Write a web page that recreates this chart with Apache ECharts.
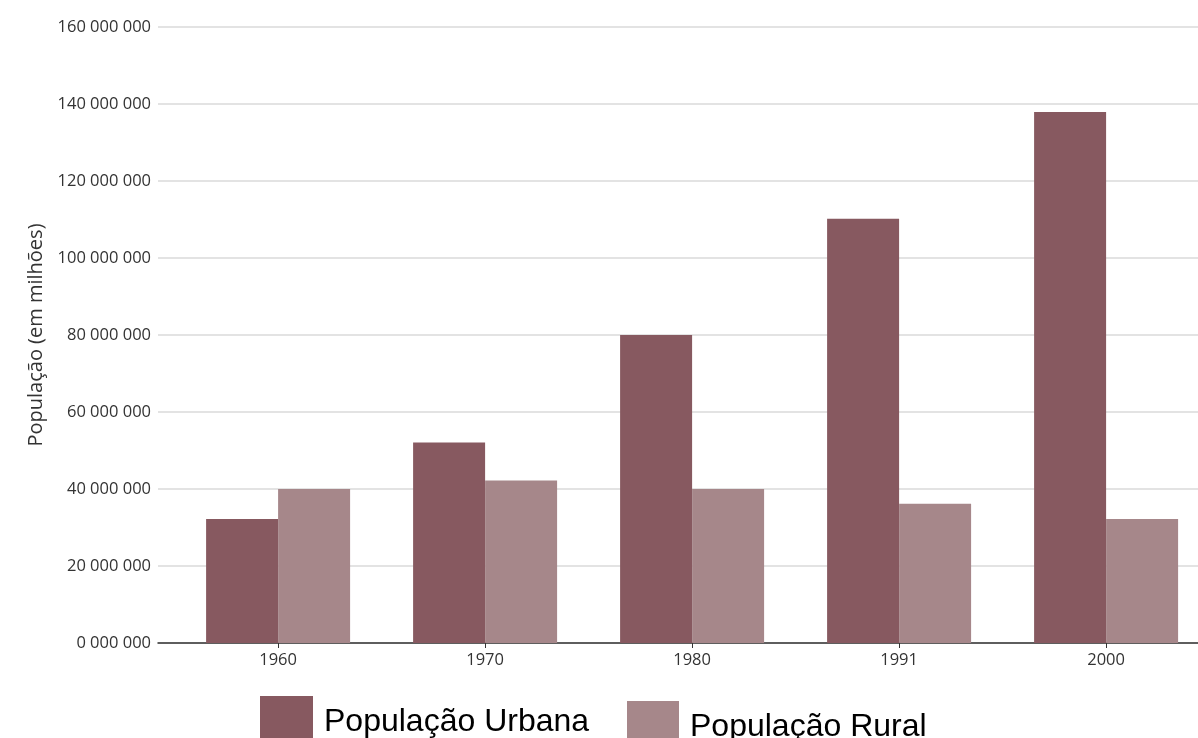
<!DOCTYPE html>
<html lang="pt">
<head>
    <meta charset="UTF-8">
    <title>População urbana e rural</title>
    <script src="https://cdn.jsdelivr.net/npm/echarts@6/dist/echarts.min.js"></script>
    <style>
        html, body { margin: 0; padding: 0; background: #fff; }
    </style>
</head>
<body>
<div id="chart" style="width: 1198px;height: 738px;"></div>
<script>
    var years = ['1960', '1970', '1980', '1991', '2000'];
    // valores (habitantes)
    var urbana = [32200000, 52100000, 80000000, 110200000, 137900000];
    var rural = [40000000, 42200000, 40000000, 36200000, 32200000];
    var yTickLabels = ['0 000 000', '20 000 000', '40 000 000', '60 000 000', '80 000 000',
        '100 000 000', '120 000 000', '140 000 000', '160 000 000'];

    var corUrbana = '#875960';
    var corRural = '#a6878a';

    var myChart = echarts.init(document.getElementById('chart'));
    var option = {
        backgroundColor: '#fff',
        animation: false,
        grid: [
            // grade das linhas horizontais e eixo Y
            { left: 158, right: 0, top: 27, bottom: 95, outerBoundsMode: 'none' },
            // grade das barras (categorias) - passa um pouco da borda direita
            { left: 174.6, width: 1035, top: 27, bottom: 95, outerBoundsMode: 'none' }
        ],
        legend: [
            {
                data: ['População Urbana'],
                left: 260, top: 696, padding: 0,
                icon: 'rect', itemWidth: 53, itemHeight: 52,
                selectedMode: false,
                textStyle: { fontFamily: 'Liberation Sans', fontSize: 32, color: '#000', padding: [0, 0, 0, 6] }
            },
            {
                data: ['População Rural'],
                left: 627, top: 701, padding: 0,
                icon: 'rect', itemWidth: 52, itemHeight: 52,
                selectedMode: false,
                textStyle: { fontFamily: 'Liberation Sans', fontSize: 32, color: '#000', padding: [0, 0, 0, 6] }
            }
        ],
        xAxis: [
            {
                gridIndex: 0,
                type: 'value',
                min: 0, max: 1,
                axisLine: { show: true, lineStyle: { color: '#333', width: 1.5 } },
                axisTick: { show: false },
                axisLabel: { show: false },
                splitLine: { show: false }
            },
            {
                gridIndex: 1,
                type: 'category',
                data: years,
                axisLine: { show: false },
                axisTick: { show: true, alignWithLabel: true, length: 5, lineStyle: { color: '#333' } },
                axisLabel: { color: '#333', fontFamily: 'Open Sans', fontSize: 16.5, margin: 9 },
                splitLine: { show: false }
            }
        ],
        yAxis: [
            {
                gridIndex: 0,
                type: 'value',
                min: 0, max: 160000000, interval: 20000000,
                name: 'População (em milhões)',
                nameLocation: 'middle',
                nameGap: 112,
                nameTextStyle: { color: '#333', fontFamily: 'Open Sans', fontSize: 20 },
                axisLine: { show: false },
                axisTick: { show: false },
                axisLabel: {
                    color: '#333', fontFamily: 'Open Sans', fontSize: 16.5, margin: 7,
                    formatter: function (value, index) {
                        return yTickLabels[index];
                    }
                },
                splitLine: { show: true, lineStyle: { color: '#e3e3e3', width: 2 } }
            },
            {
                gridIndex: 1,
                type: 'value',
                min: 0, max: 160000000,
                show: false
            }
        ],
        series: [
            {
                name: 'População Urbana',
                type: 'bar',
                xAxisIndex: 1, yAxisIndex: 1,
                barWidth: 72,
                barGap: '0%',
                itemStyle: { color: corUrbana },
                data: urbana
            },
            {
                name: 'População Rural',
                type: 'bar',
                xAxisIndex: 1, yAxisIndex: 1,
                barWidth: 72,
                barGap: '0%',
                itemStyle: { color: corRural },
                data: rural
            }
        ]
    };
    myChart.setOption(option);
</script>
</body>
</html>
